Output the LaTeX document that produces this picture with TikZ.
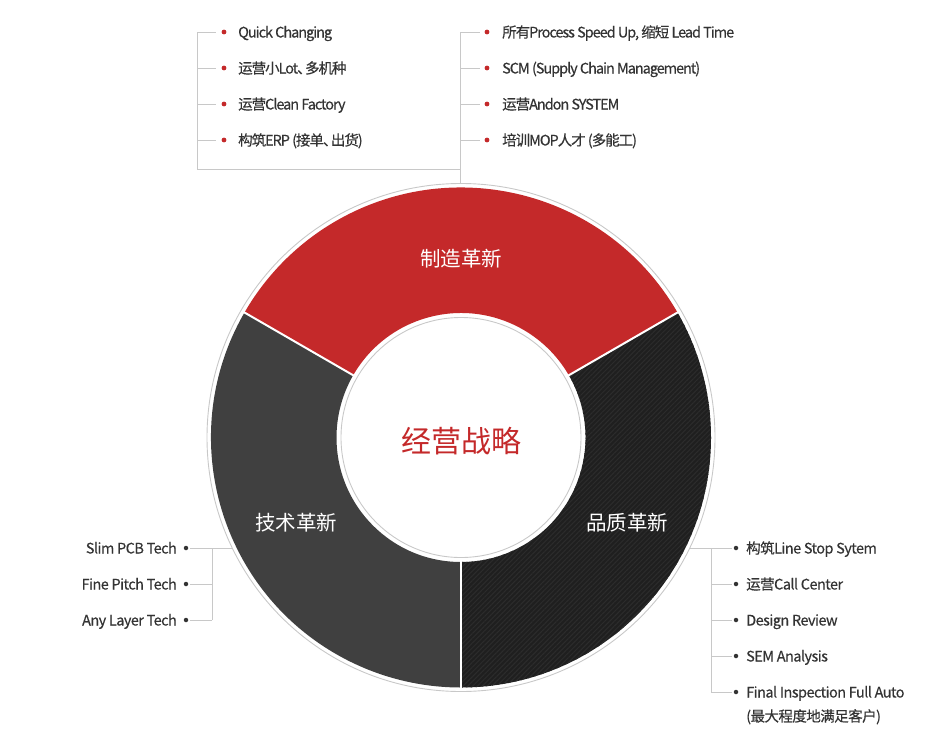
\documentclass[tikz,border=0pt]{standalone}
\usepackage{fontspec}
\setmainfont{Noto Sans CJK SC}
\newfontfamily\topfont{Noto Sans CJK SC}[LetterSpace=-7.2,FakeBold=0.35]
\newfontfamily\botfont{Noto Sans CJK SC}[LetterSpace=-3.8,FakeBold=0.35]
\usetikzlibrary{patterns.meta}
\definecolor{myred}{HTML}{C4292A}
\definecolor{mydark}{HTML}{1F1F1F}
\definecolor{mystripe}{HTML}{2C2C2C}
\definecolor{mygrey}{HTML}{404040}
\definecolor{linegrey}{HTML}{C8C8C8}
\definecolor{txt}{HTML}{333333}
\newcommand{\halfcomma}{、\kern-0.45em}
\begin{document}
\begin{tikzpicture}[x=1pt,y=-1pt,
  item/.style={anchor=base west, text=txt, font=\topfont\fontsize{14.5}{17}\selectfont, inner sep=0pt},
  itemB/.style={anchor=base west, text=txt, font=\botfont\fontsize{14.5}{17}\selectfont, inner sep=0pt},
  itemL/.style={anchor=base east, text=txt, font=\botfont\fontsize{14.5}{17}\selectfont, inner sep=0pt},
  conn/.style={draw=linegrey, line width=0.9pt},
  rdot/.style={circle, fill=myred, inner sep=0pt, minimum size=4.8pt},
  ddot/.style={circle, fill=txt, inner sep=0pt, minimum size=4.5pt},
  seglabel/.style={text=white, font=\fontsize{20.5}{24}\selectfont, inner sep=0pt},
  sep/.style={draw=white, line width=2pt}
]
\useasboundingbox (0,0) rectangle (950,750);
\coordinate (c) at (461,437.5);

% ring segments
\begin{scope}[shift={(c)}]
  \fill[myred] (30:250pt) arc[start angle=30,end angle=150,radius=250pt]
     -- (150:124.5pt) arc[start angle=150,end angle=30,radius=124.5pt] -- cycle;
  \fill[mygrey] (150:250pt) arc[start angle=150,end angle=270,radius=250pt]
     -- (270:124.5pt) arc[start angle=270,end angle=150,radius=124.5pt] -- cycle;
  \fill[mydark] (-90:250pt) arc[start angle=-90,end angle=30,radius=250pt]
     -- (30:124.5pt) arc[start angle=30,end angle=-90,radius=124.5pt] -- cycle;
  \fill[pattern={Lines[angle=45,distance=3.4pt,line width=1pt]}, pattern color=mystripe]
     (-90:250pt) arc[start angle=-90,end angle=30,radius=250pt]
     -- (30:124.5pt) arc[start angle=30,end angle=-90,radius=124.5pt] -- cycle;
  \draw[sep] (30:120pt) -- (30:252pt);
  \draw[sep] (150:120pt) -- (150:252pt);
  \draw[sep] (270:120pt) -- (270:252pt);
  \draw[linegrey, line width=0.9pt] (0,0) circle[radius=254pt];
  \draw[linegrey, line width=0.9pt] (0,0) circle[radius=120pt];
\end{scope}

\node[text=myred, font=\fontsize{30}{34}\selectfont, inner sep=0pt] (core) at (461,441) {经营战略};
\node[seglabel] (s1) at (461,259) {制造革新};
\node[seglabel] (s2) at (296,523) {技术革新};
\node[seglabel] (s3) at (627,523) {品质革新};

% top-left list
\coordinate (tlv0) at (197,32);
\coordinate (tlv1) at (197,68);
\coordinate (tlv2) at (197,104);
\coordinate (tlv3) at (197,140);
\coordinate (tlcorner) at (197,169);
\coordinate (tljoin) at (460,169);
\foreach \i/\y in {0/32,1/68,2/104,3/140}{
  \coordinate (tle\i) at (216,\y);
  \node[rdot] (tlb\i) at (224,\y) {};
}
\node[item] (tlt0) at (238,37.5) {Quick Changing};
\node[item] (tlt1) at (238,73.5) {运营小Lot\halfcomma 多机种};
\node[item] (tlt2) at (238,109.5) {运营Clean Factory};
\node[item] (tlt3) at (238,145.5) {构筑ERP (接单\halfcomma 出货)};
\draw[conn] (tlv0) -- (tlcorner) -- (tljoin);
\foreach \i in {0,1,2,3}{ \draw[conn] (tlv\i) -- (tle\i); }

% top-right list
\coordinate (trv0) at (460,32);
\coordinate (trv1) at (460,68);
\coordinate (trv2) at (460,104);
\coordinate (trv3) at (460,140);
\coordinate (trbottom) at (460,183.5);
\foreach \i/\y in {0/32,1/68,2/104,3/140}{
  \coordinate (tre\i) at (480,\y);
  \node[rdot] (trb\i) at (487,\y) {};
}
\node[item] (trt0) at (502,37.5) {所有Process Speed Up, 缩短 Lead Time};
\node[item] (trt1) at (502,73.5) {SCM (Supply Chain Management)};
\node[item] (trt2) at (502,109.5) {运营Andon SYSTEM};
\node[item] (trt3) at (502,145.5) {培训MOP人才 (多能工)};
\draw[conn] (trv0) -- (trbottom);
\foreach \i in {0,1,2,3}{ \draw[conn] (trv\i) -- (tre\i); }

% bottom-left list
\coordinate (blring) at (232,548);
\foreach \i/\y in {0/548,1/584,2/620}{
  \coordinate (blv\i) at (212,\y);
  \coordinate (ble\i) at (190,\y);
  \node[ddot] (blb\i) at (186,\y) {};
}
\node[itemL] (blt0) at (177,553.5) {Slim PCB Tech};
\node[itemL] (blt1) at (177,589.5) {Fine Pitch Tech};
\node[itemL] (blt2) at (177,625.5) {Any Layer Tech};
\draw[conn] (blring) -- (blv0) -- (blv2);
\foreach \i in {0,1,2}{ \draw[conn] (blv\i) -- (ble\i); }

% bottom-right list
\coordinate (brring) at (690,548);
\foreach \i/\y in {0/548,1/584,2/620,3/656,4/692}{
  \coordinate (brv\i) at (711,\y);
  \coordinate (bre\i) at (732,\y);
  \node[ddot] (brb\i) at (736,\y) {};
}
\node[itemB] (brt0) at (746,553.5) {构筑Line Stop Sytem};
\node[itemB] (brt1) at (746,589.5) {运营Call Center};
\node[itemB] (brt2) at (746,625.5) {Design Review};
\node[itemB] (brt3) at (746,661.5) {SEM Analysis};
\node[itemB] (brt4) at (746,697.5) {Final Inspection Full Auto};
\node[itemB] (brt5) at (746,721.5) {(最大程度地满足客户)};
\draw[conn] (brring) -- (brv0) -- (brv4);
\foreach \i in {0,1,2,3,4}{ \draw[conn] (brv\i) -- (bre\i); }
\end{tikzpicture}
\end{document}
